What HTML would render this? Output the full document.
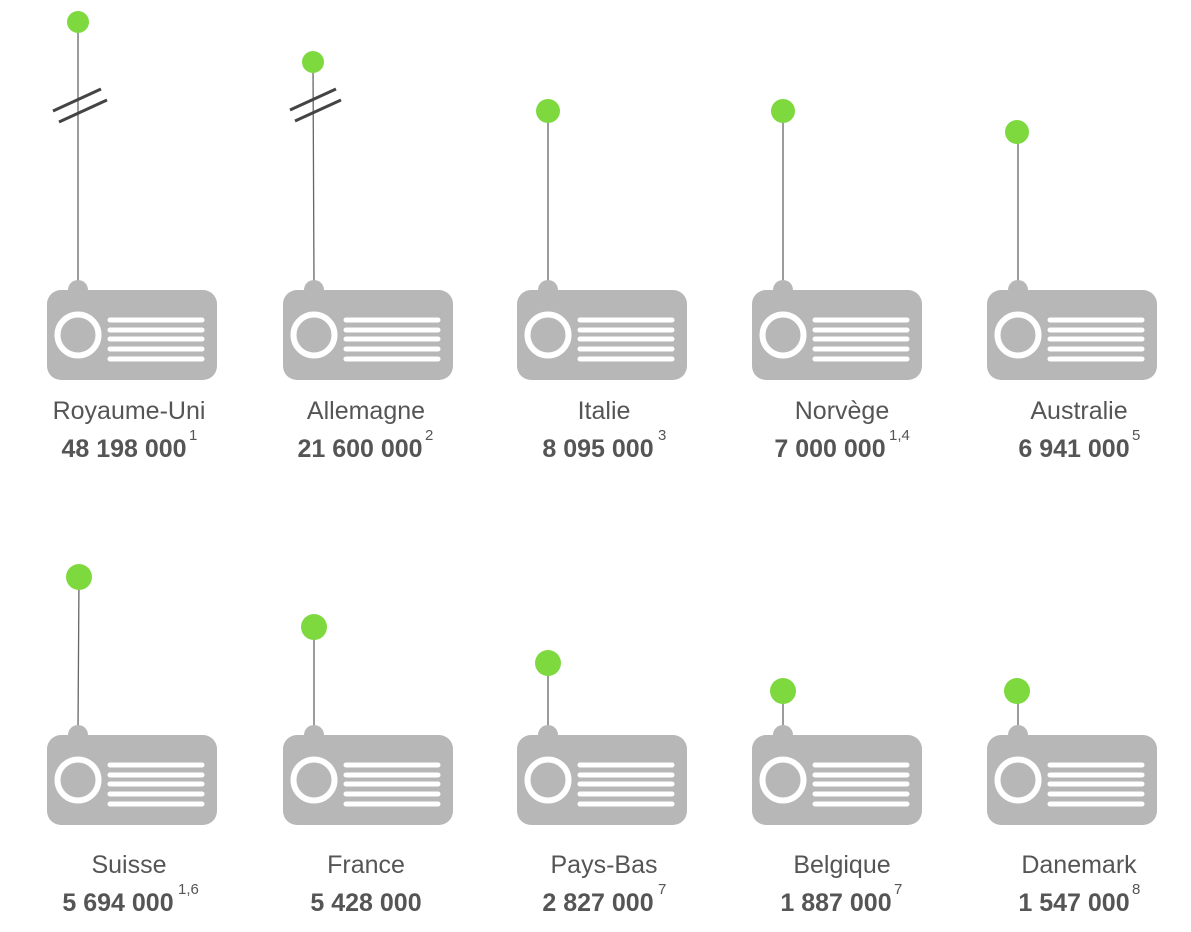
<!DOCTYPE html>
<html><head><style>
body{margin:0;background:#fff;width:1191px;height:927px;overflow:hidden;font-family:"Liberation Sans",sans-serif}
</style></head><body>
<svg width="1191" height="927" xmlns="http://www.w3.org/2000/svg">
<defs>
<g id="r">
<circle cx="31" cy="0" r="10" fill="#b7b7b7"/>
<rect x="0" y="0" width="170" height="90" rx="14" fill="#b7b7b7"/>
<circle cx="31" cy="45" r="20.5" fill="none" stroke="#fff" stroke-width="6"/>
<g stroke="#fff" stroke-width="5" stroke-linecap="round">
<line x1="63" y1="30" x2="155" y2="30"/><line x1="63" y1="40" x2="155" y2="40"/>
<line x1="63" y1="49" x2="155" y2="49"/><line x1="63" y1="59" x2="155" y2="59"/>
<line x1="63" y1="69" x2="155" y2="69"/></g>
</g>
</defs>
<g stroke="#666" stroke-width="1.3">
<line x1="78" y1="22" x2="78" y2="285"/><line x1="313" y1="62" x2="314" y2="285"/>
<line x1="548" y1="111" x2="548" y2="285"/><line x1="783" y1="111" x2="783" y2="285"/>
<line x1="1018" y1="132" x2="1018" y2="285"/>
<line x1="79" y1="577" x2="78" y2="730"/><line x1="314" y1="627" x2="314" y2="730"/>
<line x1="548" y1="663" x2="548" y2="730"/><line x1="783" y1="691" x2="783" y2="730"/>
<line x1="1018" y1="691" x2="1018" y2="730"/>
</g>
<g stroke="#444" stroke-width="3">
<line x1="53" y1="111" x2="101" y2="89"/><line x1="59" y1="122" x2="107" y2="100"/>
<line x1="290" y1="110" x2="336" y2="89"/><line x1="295" y1="121" x2="341" y2="100"/>
</g>
<g fill="#7ed93f">
<circle cx="78" cy="22" r="11"/><circle cx="313" cy="62" r="11"/><circle cx="548" cy="111" r="12"/>
<circle cx="783" cy="111" r="12"/><circle cx="1017" cy="132" r="12"/>
<circle cx="79" cy="577" r="13"/><circle cx="314" cy="627" r="13"/><circle cx="548" cy="663" r="13"/>
<circle cx="783" cy="691" r="13"/><circle cx="1017" cy="691" r="13"/>
</g>
<use href="#r" x="47" y="290"/><use href="#r" x="283" y="290"/><use href="#r" x="517" y="290"/>
<use href="#r" x="752" y="290"/><use href="#r" x="987" y="290"/>
<use href="#r" x="47" y="735"/><use href="#r" x="283" y="735"/><use href="#r" x="517" y="735"/>
<use href="#r" x="752" y="735"/><use href="#r" x="987" y="735"/>
<g fill="#555" font-size="25" text-anchor="middle">
<text x="129" y="419">Royaume-Uni</text><text x="366" y="419">Allemagne</text><text x="604" y="419">Italie</text>
<text x="842" y="419">Norvège</text><text x="1079" y="419">Australie</text>
<text x="129" y="873">Suisse</text><text x="366" y="873">France</text><text x="604" y="873">Pays-Bas</text>
<text x="842" y="873">Belgique</text><text x="1079" y="873">Danemark</text>
</g>
<g fill="#555" font-size="25" font-weight="bold" text-anchor="middle">
<text x="124" y="457">48 198 000</text><text x="360" y="457">21 600 000</text><text x="598" y="457">8 095 000</text>
<text x="830" y="457">7 000 000</text><text x="1074" y="457">6 941 000</text>
<text x="118" y="911">5 694 000</text><text x="366" y="911">5 428 000</text><text x="598" y="911">2 827 000</text>
<text x="836" y="911">1 887 000</text><text x="1074" y="911">1 547 000</text>
</g>
<g fill="#555" font-size="15">
<text x="189" y="440">1</text><text x="425" y="440">2</text><text x="658" y="440">3</text>
<text x="889" y="440">1,4</text><text x="1132" y="440">5</text>
<text x="178" y="894">1,6</text><text x="658" y="894">7</text><text x="894" y="894">7</text><text x="1132" y="894">8</text>
</g>
</svg>
</body></html>
